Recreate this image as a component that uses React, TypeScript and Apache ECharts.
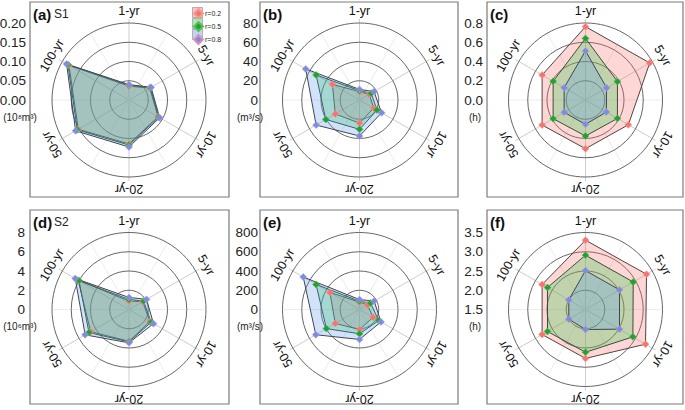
import React, { useEffect, useRef } from 'react';
import * as echarts from 'echarts';

// ---------- data ----------
const periods = ['1-yr', '5-yr', '10-yr', '20-yr', '50-yr', '100-yr'];
const scenarios = ['r=0.2', 'r=0.5', 'r=0.8'];

// (a) S1 flood volume (10^8 m3)
const aR02 = [0.036, 0.062, 0.087, 0.114, 0.152, 0.180];
const aR05 = [0.038, 0.064, 0.089, 0.117, 0.155, 0.183];
const aR08 = [0.040, 0.066, 0.092, 0.122, 0.160, 0.187];
// (b) S1 peak discharge (m3/s)
const bR02 = [8.7, 11.6, 17, 24, 29, 32.5];
const bR05 = [9.7, 14, 21, 30.5, 40.4, 52];
const bR08 = [11, 17.4, 26.5, 37.4, 52, 64.5];
// (c) S1 duration (h)
const cR02 = [0.762, 0.77, 0.514, 0.506, 0.52, 0.52];
const cR05 = [0.64, 0.383, 0.383, 0.374, 0.388, 0.388];
const cR08 = [0.51, 0.253, 0.25, 0.253, 0.256, 0.256];
// (d) S2 flood volume (10^6 m3)
const dR02 = [0.87, 1.63, 2.5, 3.3, 4.6, 6.1];
const dR05 = [1.04, 1.75, 2.65, 3.36, 4.8, 6.0];
const dR08 = [1.25, 2.1, 2.94, 3.46, 5.26, 6.45];
// (e) S2 peak discharge (m3/s)
const eR02 = [76, 95, 163, 207, 290, 355];
const eR05 = [86, 133, 230, 252, 397, 521];
const eR08 = [103, 175, 258, 311, 524, 675];
// (f) S2 duration (h)
const fR02 = [3.30, 3.33, 3.30, 2.77, 2.80, 2.80];
const fR05 = [2.91, 2.93, 2.92, 2.61, 2.64, 2.64];
const fR08 = [2.51, 2.52, 2.52, 2.02, 2.00, 2.00];

const panelSeries = [
  [aR02, aR05, aR08],
  [bR02, bR05, bR08],
  [cR02, cR05, cR08],
  [dR02, dR05, dR08],
  [eR02, eR05, eR08],
  [fR02, fR05, fR08],
];

const panelLetters = ['(a)', '(b)', '(c)', '(d)', '(e)', '(f)'];
const panelTags = ['S1', '', '', 'S2', '', ''];
const units = ['(10⁸m³)', '(m³/s)', '(h)', '(10⁶m³)', '(m³/s)', '(h)'];
const axisMin = [0, 0, 0, 0, 0, 1.5];
const axisMax = [0.2, 80, 0.8, 8, 800, 3.5];
const axisStep = [0.05, 20, 0.2, 2, 200, 0.5];
const tickDecimals = [2, 0, 1, 0, 0, 1];

// ---------- styles / layout ----------
const markerColors = ['#F8736E', '#22A032', '#7090EE'];
const markerBorders = ['#f39a96', '#5cbf5c', '#e08fb0'];
const fillColors = ['rgba(248,112,107,0.4)', 'rgba(40,200,70,0.4)', 'rgba(90,150,235,0.4)'];
const outline = '#3a3a3a';
const FONT = 'Liberation Sans, Arial, sans-serif';

const colCx = [129, 359.5, 585.5];
const rowCy = [100, 309.5];
const boxX = [[30, 229], [260, 458], [487, 683]];
const boxY = [[2, 197], [210, 404]];
const labelRight = [25, 258, 483];
const R = 77;
const LABEL_R = 89;

// indicators in counter-clockwise order starting at top
const ccwOrder = [0, 5, 4, 3, 2, 1];

function buildOption() {
  const radar: any[] = [];
  const series: any[] = [];
  const grid: any[] = [];
  const xAxis: any[] = [];
  const yAxis: any[] = [];
  const graphic: any[] = [];

  panelSeries.forEach((lists, i) => {
    const row = Math.floor(i / 3);
    const col = i % 3;
    const cx = colCx[col];
    const cy = rowCy[row];

    radar.push({
      center: [cx, cy],
      radius: R,
      startAngle: 90,
      shape: 'circle',
      splitNumber: 4,
      indicator: ccwOrder.map((k) => ({ name: periods[k], min: axisMin[i], max: axisMax[i] })),
      axisName: { show: false },
      axisLine: { show: false },
      axisTick: { show: false },
      axisLabel: { show: false },
      splitArea: { show: false },
      splitLine: { lineStyle: { color: '#555555', width: 0.9 } },
    });

    series.push({
      type: 'radar',
      radarIndex: i,
      symbol: 'diamond',
      symbolSize: 7,
      z: 3,
      data: lists.map((vals, j) => ({
        name: scenarios[j],
        value: ccwOrder.map((k) => vals[k]),
        itemStyle: { color: markerColors[j], borderColor: markerBorders[j], borderWidth: 0.6 },
        lineStyle: { color: outline, width: 1 },
        areaStyle: { color: fillColors[j] },
      })),
    });

    grid.push({ left: labelRight[col] + 3, width: 1, top: cy - R, height: R });
    xAxis.push({ type: 'value', gridIndex: i, show: false });
    const dec = tickDecimals[i];
    yAxis.push({
      type: 'value',
      gridIndex: i,
      min: axisMin[i],
      max: axisMax[i],
      interval: axisStep[i],
      axisLine: { show: false },
      axisTick: { show: false },
      splitLine: { show: false },
      axisLabel: {
        margin: 3,
        fontSize: 13.5,
        color: '#222',
        fontFamily: FONT,
        formatter: (v: number) => v.toFixed(dec),
      },
    });

    // panel box
    const [x0, x1] = boxX[col];
    const [y0, y1] = boxY[row];
    graphic.push({
      type: 'rect',
      z: 0,
      silent: true,
      shape: { x: x0, y: y0, width: x1 - x0, height: y1 - y0 },
      style: { fill: 'none', stroke: '#7a7a7a', lineWidth: 1.2 },
    });

    // spokes
    for (let s = 0; s < 12; s++) {
      const ang = (s * 30 * Math.PI) / 180;
      const major = s % 2 === 0;
      const len = major ? R + 4 : R;
      graphic.push({
        type: 'line',
        z: 0,
        silent: true,
        shape: { x1: cx, y1: cy, x2: cx + len * Math.sin(ang), y2: cy - len * Math.cos(ang) },
        style: { stroke: major ? '#cdcdcd' : '#ececec', lineWidth: 1 },
      });
    }

    // panel letter + tag
    graphic.push({
      type: 'text',
      z: 10,
      silent: true,
      x: x0 + 3,
      y: y0 + 12,
      style: {
        text: panelLetters[i],
        font: `bold 15px ${FONT}`,
        fill: '#111',
        textVerticalAlign: 'middle',
        verticalAlign: 'middle',
      },
    });
    if (panelTags[i]) {
      graphic.push({
        type: 'text',
        z: 10,
        silent: true,
        x: x0 + 24,
        y: y0 + 12,
        style: {
          text: panelTags[i],
          font: `12px ${FONT}`,
          fill: '#222',
          textVerticalAlign: 'middle',
          verticalAlign: 'middle',
        },
      });
    }

    // unit label
    graphic.push({
      type: 'text',
      z: 10,
      silent: true,
      x: labelRight[col] - (i % 3 === 0 ? 5 : 8),
      y: cy + 17,
      style: {
        text: units[i],
        font: `10px ${FONT}`,
        fill: '#222',
        textAlign: 'center',
        align: 'center',
        textVerticalAlign: 'middle',
        verticalAlign: 'middle',
      },
    });

    // rotated indicator labels
    periods.forEach((p, k) => {
      const ang = (k * 60 * Math.PI) / 180;
      graphic.push({
        type: 'text',
        z: 10,
        silent: true,
        x: cx + LABEL_R * Math.sin(ang),
        y: cy - LABEL_R * Math.cos(ang),
        rotation: -ang,
        style: {
          text: p,
          font: `12.5px ${FONT}`,
          fill: '#111',
          textAlign: 'center',
          align: 'center',
          textVerticalAlign: 'middle',
          verticalAlign: 'middle',
        },
      });
    });
  });

  // legend boxes (panel a)
  const legLeft = 193;
  const legTop = 8;
  const legStep = 11;
  scenarios.forEach((_, j) => {
    graphic.push({
      type: 'rect',
      z: 0,
      silent: true,
      shape: { x: legLeft - 0.5, y: legTop + j * legStep - 0.5, width: 10, height: 10 },
      style: { fill: fillColors[j], stroke: '#8a8a8a', lineWidth: 0.6 },
    });
  });

  return {
    animation: false,
    backgroundColor: '#ffffff',
    legend: {
      data: scenarios,
      orient: 'vertical',
      left: legLeft,
      top: legTop,
      icon: 'diamond',
      itemWidth: 9,
      itemHeight: 9,
      itemGap: 2,
      padding: 0,
      selectedMode: false,
      textStyle: { fontSize: 7, color: '#222', fontFamily: FONT, padding: [0, 0, 0, -3] },
    },
    radar,
    grid,
    xAxis,
    yAxis,
    series,
    graphic,
  };
}

export default function App() {
  const ref = useRef<HTMLDivElement>(null);
  useEffect(() => {
    if (!ref.current) return;
    const chart = echarts.init(ref.current, null, { renderer: 'svg' });
    chart.setOption(buildOption() as any);
    return () => chart.dispose();
  }, []);
  return (
    <div
      ref={ref}
      style={{ position: 'fixed', left: 0, top: 0, width: 685, height: 410, background: '#fff' }}
    />
  );
}
